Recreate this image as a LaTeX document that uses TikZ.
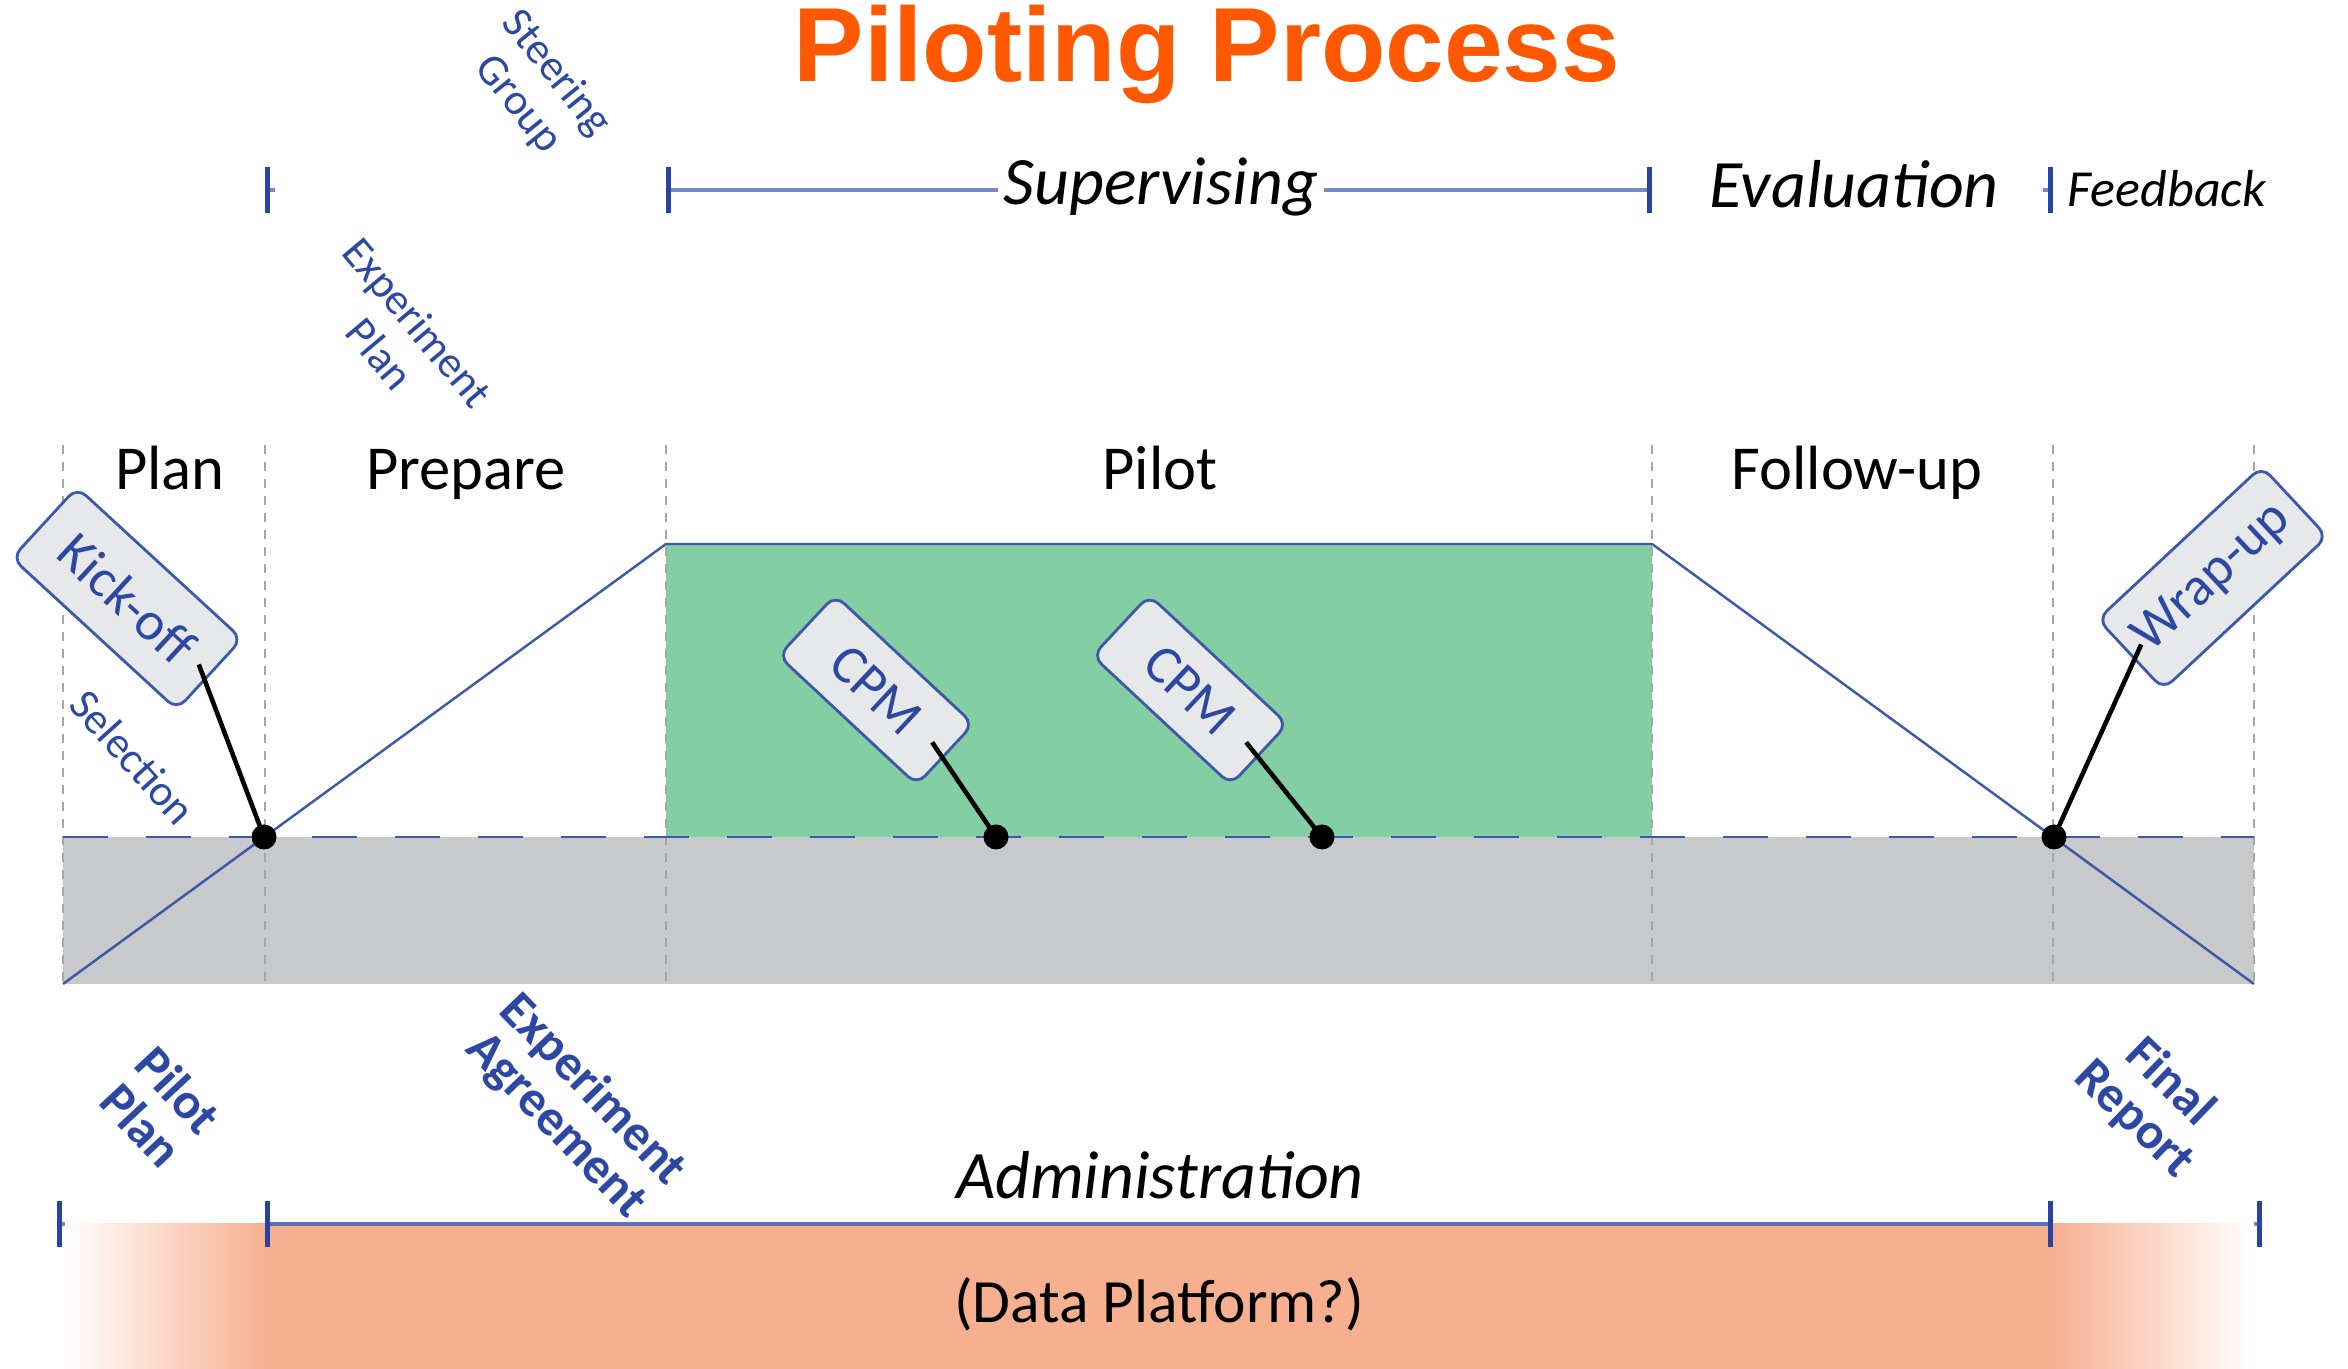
\documentclass[tikz,border=0pt]{standalone}
\usepackage{fontspec}
\setmainfont{Carlito}
\newfontfamily\titlefont{Liberation Sans}
\usetikzlibrary{calc,arrows.meta}

\definecolor{lineblue}{RGB}{62,88,170}
\definecolor{tickblue}{RGB}{40,68,160}
\definecolor{txtblue}{RGB}{44,72,162}
\definecolor{supblue}{RGB}{118,138,198}
\definecolor{adminblue}{RGB}{92,112,186}
\definecolor{pilotgreen}{RGB}{132,206,164}
\definecolor{bandgray}{RGB}{200,201,203}
\definecolor{tagfill}{RGB}{231,232,233}
\definecolor{dataorange}{RGB}{246,176,144}
\definecolor{titleorange}{RGB}{255,88,0}

\tikzset{
	phase/.style={anchor=base, font=\fontsize{17.8}{20}\selectfont},
	track/.style={anchor=base, inner sep=1.5pt, font=\itshape\fontsize{19.3}{22}\selectfont},
	doc/.style={text=txtblue, align=center, font=\fontsize{12.5}{14}\selectfont},
	deliv/.style={text=txtblue, align=center, font=\bfseries\fontsize{14.5}{14.5}\selectfont},
	tag/.style={draw=lineblue, line width=0.8pt, fill=tagfill, rounded corners=1.2mm, text=txtblue,
		font=\fontsize{15.5}{17}\selectfont, minimum width=1.89cm, minimum height=0.83cm, inner sep=1pt},
	bigtag/.style={tag, minimum width=2.24cm, minimum height=0.96cm},
	stem/.style={black, line width=1.3pt},
	milestone/.style={circle, fill=black, inner sep=0pt, minimum size=2.5mm},
	phaseline/.style={gray!70, line width=0.6pt, dash pattern=on 0.9mm off 0.8mm},
	tk/.tip={Bar[width=4.6mm,line width=1.4pt,color=tickblue]},
	tl/.style={supblue, line width=1.2pt},
}

\begin{document}
\begin{tikzpicture}
	\useasboundingbox (0,0) rectangle (23.48,13.69);
	
	% bands
	\fill[bandgray] (0.63,3.85) rectangle (22.54,5.32);
	\fill[pilotgreen] (6.66,5.32) rectangle (16.52,8.25);
	\foreach \x in {0.63,2.65,6.66,16.52,20.53,22.54}
		\draw[phaseline] (\x,9.24) -- (\x,3.85);
	\draw[lineblue, line width=0.7pt, dash pattern=on 4.5mm off 3.8mm] (0.63,5.32) -- (22.54,5.32);
	\draw[lineblue, line width=0.7pt] (0.63,3.85) -- (6.66,8.25) -- (16.52,8.25) -- (22.54,3.85);
	
	% phases
	\node[phase] (plan) at (1.70,8.79) {Plan};
	\node[phase] (prep) at (4.66,8.79) {Prepare};
	\node[phase] (pilot) at (11.60,8.79) {Pilot};
	\node[phase] (follow) at (18.57,8.79) {Follow-up};
	
	% milestones
	\node[milestone] (m1) at (2.64,5.32) {};
	\node[milestone] (m2) at (9.96,5.32) {};
	\node[milestone] (m3) at (13.22,5.32) {};
	\node[milestone] (m4) at (20.54,5.32) {};
	\node[bigtag, rotate=-42.6] (kick) at (1.27,7.705) {Kick-off};
	\node[tag, rotate=-43] (cpm1) at (8.76,6.79) {CPM};
	\node[tag, rotate=-43] (cpm2) at (11.90,6.79) {CPM};
	\node[bigtag, rotate=43] (wrap) at (22.125,7.91) {Wrap-up};
	\draw[stem] ($(kick.center)!0.86!(kick.east)$) -- (m1.center);
	\draw[stem] ($(cpm1.center)!0.8!(cpm1.east)$) -- (m2.center);
	\draw[stem] ($(cpm2.center)!0.8!(cpm2.east)$) -- (m3.center);
	\draw[stem] ($(wrap.center)!0.86!(wrap.west)$) -- (m4.center);
	
	% documents
	\node[doc, rotate=-51] (steer) at (5.37,12.80) {Steering\\Group};
	\node[doc, rotate=-50] (explan) at (3.99,10.31) {Experiment\\Plan};
	\node[doc, rotate=-48] (sel) at (1.33,6.12) {Selection};
	\node[deliv, rotate=-47] (pplan) at (1.60,2.615) {Pilot\\Plan};
	\node[deliv, rotate=-46] (agree) at (5.74,2.61) {Experiment\\Agreement};
	\node[deliv, rotate=-44] (report) at (21.52,2.68) {Final\\Report};
	
	% top track
	\coordinate (s1) at (2.65,11.79);
	\coordinate (s2) at (6.66,11.79);
	\coordinate (s3) at (16.52,11.79);
	\coordinate (s4) at (20.53,11.79);
	\node[track] (sup) at (11.61,11.64) {Supervising};
	\node[track] (eval) at (18.54,11.61) {Evaluation};
	\node[track, font=\itshape\fontsize{14.8}{17}\selectfont] (feed) at (21.67,11.62) {Feedback};
	\draw[tl, tk-] (s1) -- ++(0.1,0);
	\draw[tl, tk-] (s2) -- (s2 -| sup.west);
	\draw[tl, -tk] (s3 -| sup.east) -- (s3);
	\draw[tl, tk-] (s4) -- ++(-0.1,0);
	
	% administration
	\fill[dataorange] (2.65,0) rectangle (20.53,1.45);
	\shade[left color=white, right color=dataorange] (0.63,0) rectangle (2.65,1.45);
	\shade[left color=dataorange, right color=white] (20.53,0) rectangle (22.54,1.45);
	\coordinate (a0) at (0.57,1.45);
	\coordinate (a1) at (2.65,1.45);
	\coordinate (a2) at (20.53,1.45);
	\coordinate (a3) at (22.62,1.45);
	\draw[tl, tk-] (a0) -- ++(0.08,0);
	\draw[tl, adminblue, tk-tk] (a1) -- (a2);
	\draw[tl, tk-] (a3) -- ++(-0.08,0);
	\node[track] (admin) at (11.60,1.70) {Administration};
	\node[anchor=base, font=\fontsize{17.5}{20}\selectfont] (data) at (11.59,0.46) {(Data Platform?)};
	
	\node[anchor=base, text=titleorange, font=\titlefont\bfseries\fontsize{30}{34}\selectfont] (title) at (12.07,12.87) {Piloting Process};
\end{tikzpicture}
\end{document}
